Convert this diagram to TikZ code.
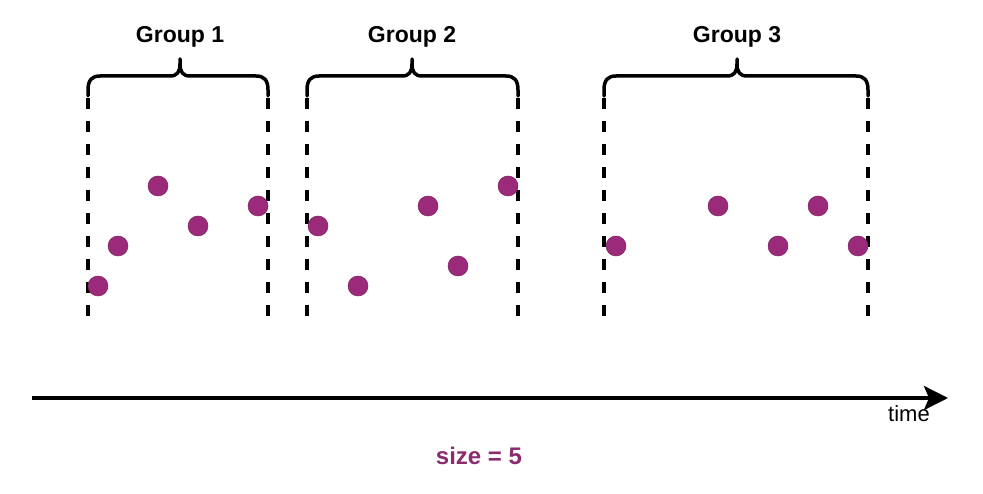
\documentclass[tikz,border=0pt]{standalone}
\usepackage{fontspec}
\setmainfont{Liberation Sans}
\usetikzlibrary{arrows.meta}
\definecolor{dotc}{HTML}{9B2A7B}
\definecolor{sizec}{HTML}{8A2C6E}
\tikzset{
  dot/.style={circle,fill=dotc,draw=dotc!80!black,line width=0.5pt,minimum size=20pt,inner sep=0pt},
  sep/.style={line width=3.5pt,dash pattern=on 11pt off 12pt},
  brace/.style={line width=3.5pt,line cap=round,line join=round},
  glabel/.style={font=\fontsize{23}{26}\selectfont\bfseries,anchor=center},
}
\newcommand{\mybrace}[3]{% left x, right x, center x
  \draw[brace] (#1,96) -- (#1,90) .. controls (#1,80) and (#1+4,76) .. (#1+12,76)
    -- (#3-10,76) .. controls (#3-3,76) and (#3,72) .. (#3,64) -- (#3,59);
  \draw[brace] (#2,96) -- (#2,90) .. controls (#2,80) and (#2-4,76) .. (#2-12,76)
    -- (#3+10,76) .. controls (#3+3,76) and (#3,72) .. (#3,64);
}
\begin{document}
\begin{tikzpicture}[x=1pt,y=-1pt]
\useasboundingbox (0,0) rectangle (983,494);
% labels
\node[glabel] (g1) at (180,37) {Group 1};
\node[glabel] (g2) at (412,37) {Group 2};
\node[glabel] (g3) at (737,37) {Group 3};
% braces
\mybrace{88}{268}{180}
\mybrace{307}{518}{412}
\mybrace{604}{868}{737}
% dashed separators
\foreach \x in {88,268,307,518,604,868}{
  \draw[sep] (\x,98) -- (\x,320);
}
% dots
\node[dot] (a1) at (98,286) {};
\node[dot] (a2) at (118,246) {};
\node[dot] (a3) at (158,186) {};
\node[dot] (a4) at (198,226) {};
\node[dot] (a5) at (258,206) {};
\node[dot] (b1) at (318,226) {};
\node[dot] (b2) at (358,286) {};
\node[dot] (b3) at (428,206) {};
\node[dot] (b4) at (458,266) {};
\node[dot] (b5) at (508,186) {};
\node[dot] (c1) at (616,246) {};
\node[dot] (c2) at (718,206) {};
\node[dot] (c3) at (778,246) {};
\node[dot] (c4) at (818,206) {};
\node[dot] (c5) at (858,246) {};
% time axis
\coordinate (t0) at (32,398);
\coordinate (t1) at (948,398);
\draw[line width=3.5pt,-{Stealth[length=24pt,width=24pt,inset=5pt]}] (t0) -- (t1);
\node[font=\fontsize{22}{25}\selectfont] (time) at (909,414) {time};
\node[font=\fontsize{24}{27}\selectfont\bfseries,text=sizec] (size) at (479,456) {size = 5};
\end{tikzpicture}
\end{document}
